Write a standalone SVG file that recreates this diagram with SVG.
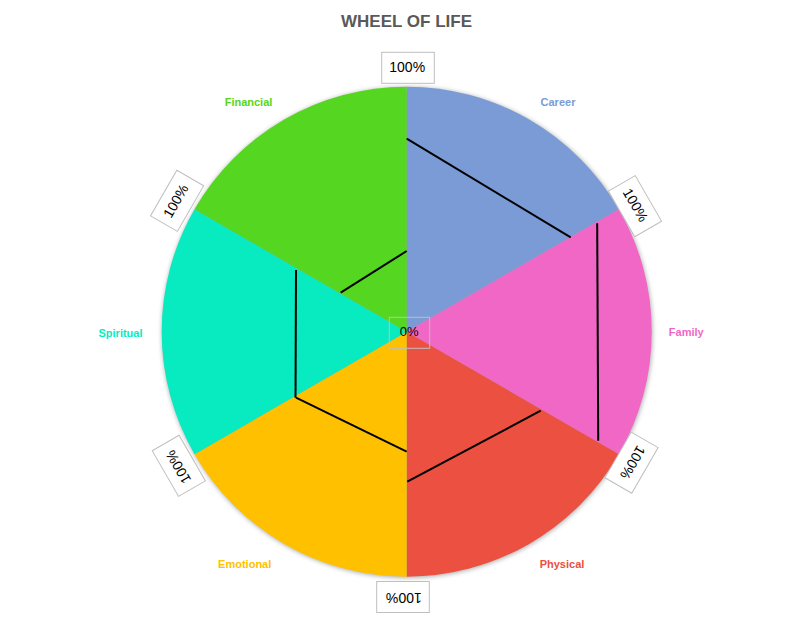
<svg xmlns="http://www.w3.org/2000/svg" width="810" height="626" viewBox="0 0 810 626">
<defs>
<filter id="sh" x="-10%" y="-10%" width="120%" height="120%">
<feGaussianBlur stdDeviation="2.5"/>
</filter>
<style>
.lbl{font-family:"Liberation Sans",Arial,sans-serif;font-size:11px;font-weight:bold;text-anchor:middle}
.pct{font-family:"Liberation Sans",Arial,sans-serif;font-size:14px;fill:#000;text-anchor:middle}
.box{fill:#fff;stroke:#bfbfbf;stroke-width:1}
.data{stroke:#000;stroke-width:2;fill:none;stroke-linecap:butt}
</style>
</defs>
<rect width="810" height="626" fill="#fff"/>
<text x="406.5" y="26.7" style="font-family:'Liberation Sans',Arial,sans-serif;font-size:17px;font-weight:bold;fill:#595959;text-anchor:middle">WHEEL OF LIFE</text>

<circle cx="407.2" cy="332.5" r="245" fill="#000" opacity="0.35" filter="url(#sh)"/>

<g id="career"><path d="M406.7 331.7 L406.7 86.7 A245 245 0 0 1 618.88 209.2 Z" fill="#7a9bd6"/><text class="lbl" x="558" y="105.7" fill="#7a9bd6">Career</text></g>
<g id="family"><path d="M406.7 331.7 L618.88 209.2 A245 245 0 0 1 618.88 454.2 Z" fill="#f067c6"/><text class="lbl" x="686.3" y="336.3" fill="#f067c6">Family</text></g>
<g id="physical"><path d="M406.7 331.7 L618.88 454.2 A245 245 0 0 1 406.7 576.7 Z" fill="#ec5040"/><text class="lbl" x="562" y="567.7" fill="#ec5040">Physical</text></g>
<g id="emotional"><path d="M406.7 331.7 L406.7 576.7 A245 245 0 0 1 194.52 454.2 Z" fill="#ffc000"/><text class="lbl" x="244.7" y="567.7" fill="#ffc000">Emotional</text></g>
<g id="spiritual"><path d="M406.7 331.7 L194.52 454.2 A245 245 0 0 1 194.52 209.2 Z" fill="#08eac0"/><text class="lbl" x="120.5" y="336.7" fill="#08eac0">Spiritual</text></g>
<g id="financial"><path d="M406.7 331.7 L194.52 209.2 A245 245 0 0 1 406.7 86.7 Z" fill="#55d620"/><text class="lbl" x="248.5" y="106" fill="#55d620">Financial</text></g>

<g id="connectors">
<line class="data" x1="406.7" y1="138.7" x2="570.7" y2="237.3"/>
<line class="data" x1="597.2" y1="223.3" x2="598.2" y2="440.7"/>
<line class="data" x1="540.7" y1="410.7" x2="407.3" y2="481.7"/>
<line class="data" x1="296" y1="397.7" x2="406.7" y2="451.7"/>
<line class="data" x1="296" y1="270" x2="295.5" y2="397.7"/>
<line class="data" x1="340.7" y1="292.7" x2="406.7" y2="251"/>
</g>

<g id="axis-labels">
<g transform="translate(408 67.8)"><rect class="box" x="-26.3" y="-15.5" width="52.6" height="31"/><text class="pct" x="-0.8" y="3.8">100%</text></g>
<g transform="translate(635 206.2) rotate(60)"><rect class="box" x="-26.3" y="-15.5" width="52.6" height="31"/><text class="pct" x="-0.8" y="3.8">100%</text></g>
<g transform="translate(631.5 462.7) rotate(120)"><rect class="box" x="-26.3" y="-15.5" width="52.6" height="31"/><text class="pct" x="-0.8" y="3.8">100%</text></g>
<g transform="translate(403 597) rotate(180)"><rect class="box" x="-26.3" y="-15.5" width="52.6" height="31"/><text class="pct" x="-0.8" y="3.8">100%</text></g>
<g transform="translate(178.8 465.8) rotate(240)"><rect class="box" x="-26.3" y="-15.5" width="52.6" height="31"/><text class="pct" x="-0.8" y="3.8">100%</text></g>
<g transform="translate(177.1 200.8) rotate(300)"><rect class="box" x="-26.3" y="-15.5" width="52.6" height="31"/><text class="pct" x="-0.8" y="3.8">100%</text></g>
<g id="zero"><rect x="389.3" y="317.3" width="40.4" height="31" fill="none" stroke="#bfbfbf" stroke-width="1"/><text class="pct" x="409.2" y="336.3" style="font-size:13px">0%</text></g>
</g>
</svg>
